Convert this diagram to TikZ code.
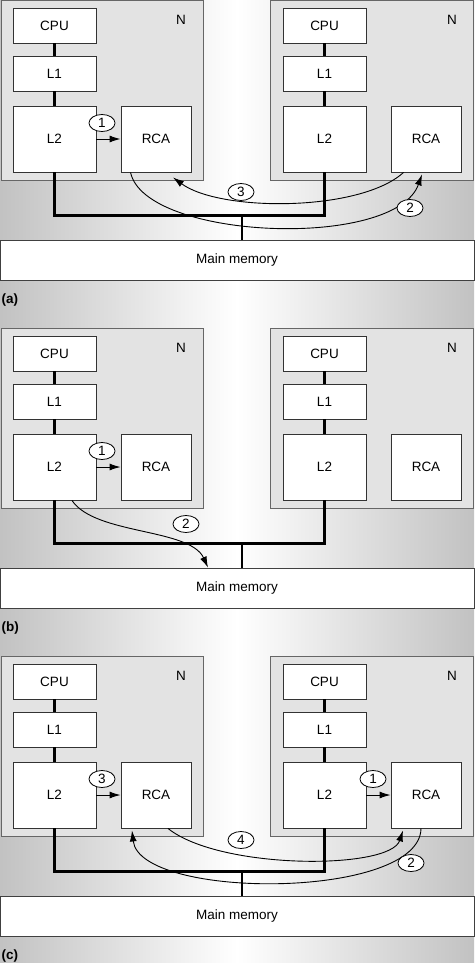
\documentclass[tikz,border=0pt]{standalone}
\usepackage{fontspec}
\setmainfont{Liberation Sans}
\usepackage{tikz}
\usetikzlibrary{arrows.meta,shapes.geometric}
\definecolor{bgedge}{gray}{0.76}
\definecolor{nodefill}{gray}{0.89}
\definecolor{boxline}{gray}{0.40}
\begin{document}
\begin{tikzpicture}
    [x=1pt, y=-1pt,
     font=\fontsize{13.5}{15}\selectfont,
     NodeBox/.style={draw=boxline, fill=nodefill, line width=0.9pt},
     Unit/.style={rectangle, draw=black!80, fill=white, line width=0.9pt, minimum width=83pt, minimum height=35pt, inner sep=0pt},
     Mem/.style={rectangle, draw=black!75, fill=white, line width=0.9pt, minimum width=474pt, minimum height=40pt},
     Num/.style={ellipse, draw=black, fill=white, line width=0.8pt, minimum width=26pt, minimum height=17pt, inner sep=0pt},
     Bus/.style={draw=black, line width=2.4pt},
     Flow/.style={draw=black, line width=0.9pt, -{Latex[length=11pt,width=7pt]}}]
	\useasboundingbox (0,0) rectangle (474,963);
	\shade[left color=bgedge, right color=bgedge, middle color=white] (0,0) rectangle (474,963);
	\foreach \p/\o in {a/0,b/328,c/656}{
		\draw[NodeBox] (1,\o) rectangle (203,\o+180);
		\draw[NodeBox] (270,\o) rectangle (473,\o+180);
		\node (\p-N-L) at (181,\o+20) {N};
		\node (\p-N-R) at (452,\o+20) {N};
		\node[Unit] (\p-CPU-L) at (54.5,\o+25.5) {CPU};
		\node[Unit] (\p-L1-L) at (54.5,\o+73.5) {L1};
		\node[Unit, minimum height=66pt] (\p-L2-L) at (54.5,\o+139) {L2};
		\node[Unit, minimum width=70pt, minimum height=66pt] (\p-RCA-L) at (156,\o+139) {RCA};
		\node[Unit] (\p-CPU-R) at (324.5,\o+25.5) {CPU};
		\node[Unit] (\p-L1-R) at (324.5,\o+73.5) {L1};
		\node[Unit, minimum height=66pt] (\p-L2-R) at (324.5,\o+139) {L2};
		\node[Unit, minimum width=70pt, minimum height=66pt] (\p-RCA-R) at (426,\o+139) {RCA};
		\node[Mem] (\p-Mem) at (237,\o+260) {Main memory};
		\node[anchor=west, font=\fontsize{13.5}{15}\selectfont\bfseries] (\p-Tag) at (-2,\o+300) {(\p)};
		\draw[Bus] (\p-CPU-L) -- (\p-L1-L) -- (\p-L2-L);
		\draw[Bus] (\p-CPU-R) -- (\p-L1-R) -- (\p-L2-R);
		\draw[Bus] (\p-L2-L.south) -- ++(0,43) -| (\p-L2-R.south);
		\coordinate (\p-J) at (242,\o+215);
		\draw[Bus] (\p-J) -- (\p-J |- \p-Mem.north);
	}
	\node[Num] (a-n1) at (102,123) {1};
	\draw[Flow] (a-L2-L.east) -- (a-RCA-L.west);
	\draw[Flow] ([xshift=13pt]a-RCA-R.south west) .. controls (360,212) and (220,212) .. ([xshift=17pt,yshift=-5pt]a-RCA-L.south);
	\node[Num] (a-n3) at (241,192) {3};
	\draw[Flow] ([xshift=10pt]a-RCA-L.south west) .. controls (145,240) and (395,250) .. ([xshift=-4pt,yshift=-2pt]a-RCA-R.south);
	\node[Num] (a-n2) at (410,208) {2};
	\node[Num] (b-n1) at (102,451) {1};
	\draw[Flow] (b-L2-L.east) -- (b-RCA-L.west);
	\draw[Flow] ([xshift=17.5pt]b-L2-L.south) .. controls (95,535) and (190,528) .. ([xshift=-29pt]b-Mem.north);
	\node[Num] (b-n2) at (186,524) {2};
	\node[Num] (c-n3) at (102,779) {3};
	\draw[Flow] (c-L2-L.east) -- (c-RCA-L.west);
	\node[Num] (c-n1) at (373,779) {1};
	\draw[Flow] (c-L2-R.east) -- (c-RCA-R.west);
	\draw[Flow] ([xshift=12pt]c-RCA-L.south) .. controls (220,870) and (390,870) .. ([xshift=-23pt,yshift=-2pt]c-RCA-R.south);
	\node[Num] (c-n4) at (241,840) {4};
	\draw[Flow] ([xshift=-5pt]c-RCA-R.south) .. controls (420,900) and (140,900) .. ([xshift=-24pt,yshift=-2pt]c-RCA-L.south);
	\node[Num] (c-n2) at (411,863) {2};
\end{tikzpicture}
\end{document}
